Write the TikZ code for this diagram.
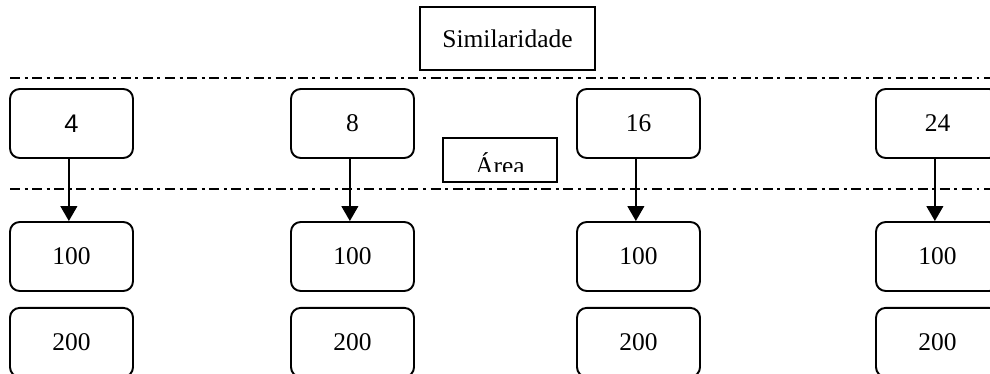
\documentclass[tikz,border=0pt]{standalone}
\usepackage{fontspec}
\setmainfont{Liberation Serif}
\newfontfamily\arialfont{Liberation Sans}
\usepackage{tikz}
\usetikzlibrary{positioning, arrows.meta}

\begin{document}
\begin{tikzpicture}[
    x=0.02cm, y=-0.02cm,
    node distance=0.3cm,
    valbox/.style={rectangle, draw, line width=1.1pt, rounded corners=5.5pt,
                   minimum width=2.46cm, minimum height=1.38cm, inner sep=0pt,
                   font=\fontsize{14.5}{17}\selectfont},
    titlebox/.style={rectangle, draw, line width=1.1pt, inner sep=0pt,
                     font=\fontsize{14.5}{17}\selectfont},
    divider/.style={line width=1pt,
                    dash pattern=on 5.7pt off 2.6pt on 1.7pt off 2.6pt},
    flow/.style={line width=1.1pt, -{Triangle[width=9.5pt, length=8.5pt]}},
  ]
    \clip (0,0) rectangle (990,374);

    % title and the two dividers
    \node[titlebox, minimum width=3.5cm, minimum height=1.26cm] (SIM)
      at (507.5,38.5) {Similaridade};
    \coordinate (D1a) at (10,78);  \coordinate (D1b) at (990,78);
    \coordinate (D2a) at (10,189); \coordinate (D2b) at (990,189);
    \draw[divider] (D1a) -- (D1b);
    \draw[divider] (D2a) -- (D2b);

    % label between the dividers (text cut off at the bottom)
    \node[titlebox, minimum width=2.28cm, minimum height=0.88cm] (AREA)
      at (500,160) {};
    \begin{scope}
      \clip (443,138) rectangle (557,171.5);
      \node[anchor=base, inner sep=0pt, font=\fontsize{14.5}{17}\selectfont]
        (AREAtxt) at (500,175) {Área};
    \end{scope}

    % top row
    \node[valbox] (T1) at (71.5,123.5)  {\arialfont 4};
    \node[valbox] (T2) at (352.5,123.5) {8};
    \node[valbox] (T3) at (638.5,123.5) {16};
    \node[valbox] (T4) at (937.5,123.5) {24};

    % lower rows
    \node[valbox] (M1) at (71.5,256.5)  {100};
    \node[valbox] (M2) at (352.5,256.5) {100};
    \node[valbox] (M3) at (638.5,256.5) {100};
    \node[valbox] (M4) at (937.5,256.5) {100};

    \node[valbox, below=of M1] (B1) {200};
    \node[valbox, below=of M2] (B2) {200};
    \node[valbox, below=of M3] (B3) {200};
    \node[valbox, below=of M4] (B4) {200};

    \foreach \i in {1,...,4}
      \draw[flow] ([xshift=-1.5pt]T\i.south) -- ([xshift=-1.5pt]M\i.north);
  \end{tikzpicture}
\end{document}
